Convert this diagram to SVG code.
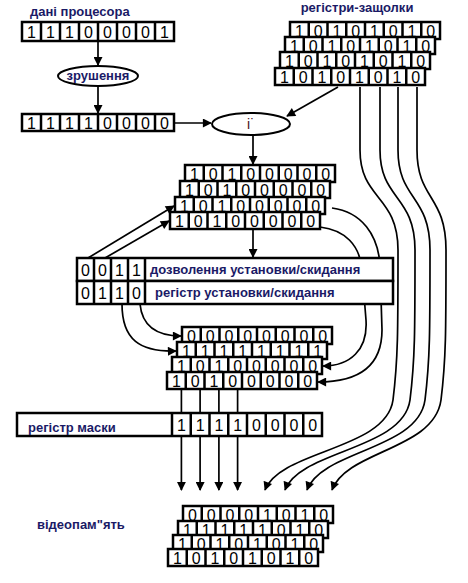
<svg xmlns="http://www.w3.org/2000/svg" xmlns:xlink="http://www.w3.org/1999/xlink" width="468" height="583" viewBox="0 0 468 583">
<style>
.lbl{font-family:"Liberation Sans",Arial,sans-serif;font-weight:bold;font-size:13px;fill:#1a1a66}
.dg{font-family:"Liberation Sans",Arial,sans-serif;font-size:16px;fill:#000;text-anchor:middle}
.ln{fill:none;stroke:#000;stroke-width:1.7}
.box{fill:#fff;stroke:#000;stroke-width:2.5}
</style>
<defs>
<marker id="ah" viewBox="0 0 10 10" refX="9" refY="5" markerWidth="10" markerHeight="9" orient="auto" markerUnits="userSpaceOnUse">
<path d="M0,0 L10,5 L0,10 z" fill="#000"/>
</marker>
<g id="reg">
<rect width="150" height="17" class="box"/>
<path d="M18.75 0v17M37.5 0v17M56.25 0v17M75 0v17M93.75 0v17M112.5 0v17M131.25 0v17" stroke="#000" stroke-width="2.5"/>
</g>
</defs>
<rect width="468" height="583" fill="#fff"/>

<g id="connectors">
<path class="ln" d="M98 41 L98 65" marker-end="url(#ah)"/>
<path class="ln" d="M98 86 L98 113" marker-end="url(#ah)"/>
<path class="ln" d="M174 123 L211 123" marker-end="url(#ah)"/>
<path class="ln" d="M338 87 L287 116" marker-end="url(#ah)"/>
<path class="ln" d="M253 135 L253 164" marker-end="url(#ah)"/>
<path class="ln" d="M253 228 L253 257" marker-end="url(#ah)"/>
<path class="ln" d="M88 258 L174 206" marker-end="url(#ah)"/>
<path class="ln" d="M105 258 L169 221" marker-end="url(#ah)"/>
<path class="ln" d="M122 304 C122 340 140 352 176 351" marker-end="url(#ah)"/>
<path class="ln" d="M140 304 C142 325 155 336 181 336" marker-end="url(#ah)"/>
<path class="ln" d="M332 208 C362 212 378 235 380 265 L382 330 C382 365 360 382 318 382" marker-end="url(#ah)"/>
<path class="ln" d="M320 227 C345 230 360 245 362 270 L366 320 C368 350 350 366 323 366" marker-end="url(#ah)"/>
<path class="ln" d="M181.4 389 L181.4 490" marker-end="url(#ah)"/>
<path class="ln" d="M200.1 389 L200.1 490" marker-end="url(#ah)"/>
<path class="ln" d="M218.9 389 L218.9 490" marker-end="url(#ah)"/>
<path class="ln" d="M237.6 389 L237.6 490" marker-end="url(#ah)"/>
<path class="ln" d="M360 87 L360 150 C360 200 398 195 398 250 C398 330 398 360 393 400 C386 450 280 450 265 490" marker-end="url(#ah)"/>
<path class="ln" d="M380 87 L380 150 C380 200 415 195 415 250 C415 330 415 360 410 400 C403 450 300 450 285 490" marker-end="url(#ah)"/>
<path class="ln" d="M398 87 L398 150 C398 200 430 195 430 250 C430 330 430 360 425 400 C418 450 322 450 307 490" marker-end="url(#ah)"/>
<path class="ln" d="M417 87 L417 150 C417 200 446 195 446 250 C446 330 446 360 441 400 C434 450 347 450 332 490" marker-end="url(#ah)"/>
</g>

<g id="title-cpu"><text class="lbl" x="30" y="16">дані процесора</text></g>
<g id="title-latches"><text class="lbl" x="357" y="12" text-anchor="middle">регістри-защолки</text></g>

<g id="cpu-data" transform="translate(22,22)">
<rect width="152" height="19" class="box"/>
<path d="M19 0v19M38 0v19M57 0v19M76 0v19M95 0v19M114 0v19M133 0v19" stroke="#000" stroke-width="2.5"/>
<text class="dg" x="9.5 28.5 47.5 66.5 85.5 104.5 123.5 142.5" y="16">11100001</text>
</g>

<g id="shift">
<ellipse cx="98" cy="76" rx="40" ry="10" fill="#fff" stroke="#000" stroke-width="2"/>
<text class="lbl" x="98" y="80" text-anchor="middle">зрушення</text>
</g>

<g id="shifted" transform="translate(22,114)">
<rect width="152" height="17" class="box"/>
<path d="M19 0v17M38 0v17M57 0v17M76 0v17M95 0v17M114 0v17M133 0v17" stroke="#000" stroke-width="2.5"/>
<text class="dg" x="9.5 28.5 47.5 66.5 85.5 104.5 123.5 142.5" y="15">11110000</text>
</g>

<g id="alu">
<ellipse cx="251" cy="124" rx="39" ry="11" fill="#fff" stroke="#000" stroke-width="2"/>
<text x="251" y="129" text-anchor="middle" font-family="Liberation Sans, Arial, sans-serif" font-size="14" fill="#4a1020">i˙</text>
</g>

<g id="latches">
<g transform="translate(290,22)"><use href="#reg"/><text class="dg" x="9.4 28.1 46.9 65.6 84.4 103.1 121.9 140.6" y="15">10101010</text></g>
<g transform="translate(285,37)"><use href="#reg"/><text class="dg" x="9.4 28.1 46.9 65.6 84.4 103.1 121.9 140.6" y="15">10101010</text></g>
<g transform="translate(280,52)"><use href="#reg"/><text class="dg" x="9.4 28.1 46.9 65.6 84.4 103.1 121.9 140.6" y="15">10101010</text></g>
<g transform="translate(275,68)"><use href="#reg"/><text class="dg" x="9.4 28.1 46.9 65.6 84.4 103.1 121.9 140.6" y="15">10101010</text></g>
</g>

<g id="result">
<g transform="translate(185,165)"><use href="#reg"/><text class="dg" x="9.4 28.1 46.9 65.6 84.4 103.1 121.9 140.6" y="15">10100000</text></g>
<g transform="translate(180,181)"><use href="#reg"/><text class="dg" x="9.4 28.1 46.9 65.6 84.4 103.1 121.9 140.6" y="15">10100000</text></g>
<g transform="translate(175,197)"><use href="#reg"/><text class="dg" x="9.4 28.1 46.9 65.6 84.4 103.1 121.9 140.6" y="15">10100000</text></g>
<g transform="translate(170,212)"><use href="#reg"/><text class="dg" x="9.4 28.1 46.9 65.6 84.4 103.1 121.9 140.6" y="15">10100000</text></g>
</g>

<g id="set-reset">
<rect x="77" y="258" width="316" height="23" class="box"/>
<rect x="77" y="281" width="316" height="23" class="box"/>
<path d="M94 258v46M111 258v46M128 258v46M145 258v46" stroke="#000" stroke-width="2.5"/>
<text class="dg" x="85.5 102.5 119.5 136.5" y="276">0011</text>
<text class="dg" x="85.5 102.5 119.5 136.5" y="299">0110</text>
<text class="lbl" x="150" y="274" font-size="12.5">дозволення установки/скидання</text>
<text class="lbl" x="155" y="297" font-size="12.5">регістр установки/скидання</text>
</g>

<g id="combined">
<g transform="translate(182,327)"><use href="#reg"/><text class="dg" x="9.4 28.1 46.9 65.6 84.4 103.1 121.9 140.6" y="15">00000000</text></g>
<g transform="translate(177,342)"><use href="#reg"/><text class="dg" x="9.4 28.1 46.9 65.6 84.4 103.1 121.9 140.6" y="15">11111111</text></g>
<g transform="translate(172,357)"><use href="#reg"/><text class="dg" x="9.4 28.1 46.9 65.6 84.4 103.1 121.9 140.6" y="15">10100000</text></g>
<g transform="translate(167,372)"><use href="#reg"/><text class="dg" x="9.4 28.1 46.9 65.6 84.4 103.1 121.9 140.6" y="15">10100000</text></g>
</g>

<g id="mask">
<rect x="17" y="413" width="305" height="23" class="box"/>
<path d="M172 413v23M190.75 413v23M209.5 413v23M228.25 413v23M247 413v23M265.75 413v23M284.5 413v23M303.25 413v23" stroke="#000" stroke-width="2.5"/>
<text class="dg" x="181.4 200.1 218.9 237.6 256.4 275.1 293.9 312.6" y="431">11110000</text>
<text class="lbl" x="28" y="432" font-size="12.5">регістр маски</text>
</g>

<g id="video-label"><text class="lbl" x="37" y="529" font-size="15">відеопам"ять</text></g>

<g id="video">
<g transform="translate(183,506)"><use href="#reg"/><text class="dg" x="9.4 28.1 46.9 65.6 84.4 103.1 121.9 140.6" y="15">00001010</text></g>
<g transform="translate(178,521)"><use href="#reg"/><text class="dg" x="9.4 28.1 46.9 65.6 84.4 103.1 121.9 140.6" y="15">11111010</text></g>
<g transform="translate(173,535)"><use href="#reg"/><text class="dg" x="9.4 28.1 46.9 65.6 84.4 103.1 121.9 140.6" y="15">10101010</text></g>
<g transform="translate(168,549)"><use href="#reg"/><text class="dg" x="9.4 28.1 46.9 65.6 84.4 103.1 121.9 140.6" y="15">10101010</text></g>
</g>
</svg>
